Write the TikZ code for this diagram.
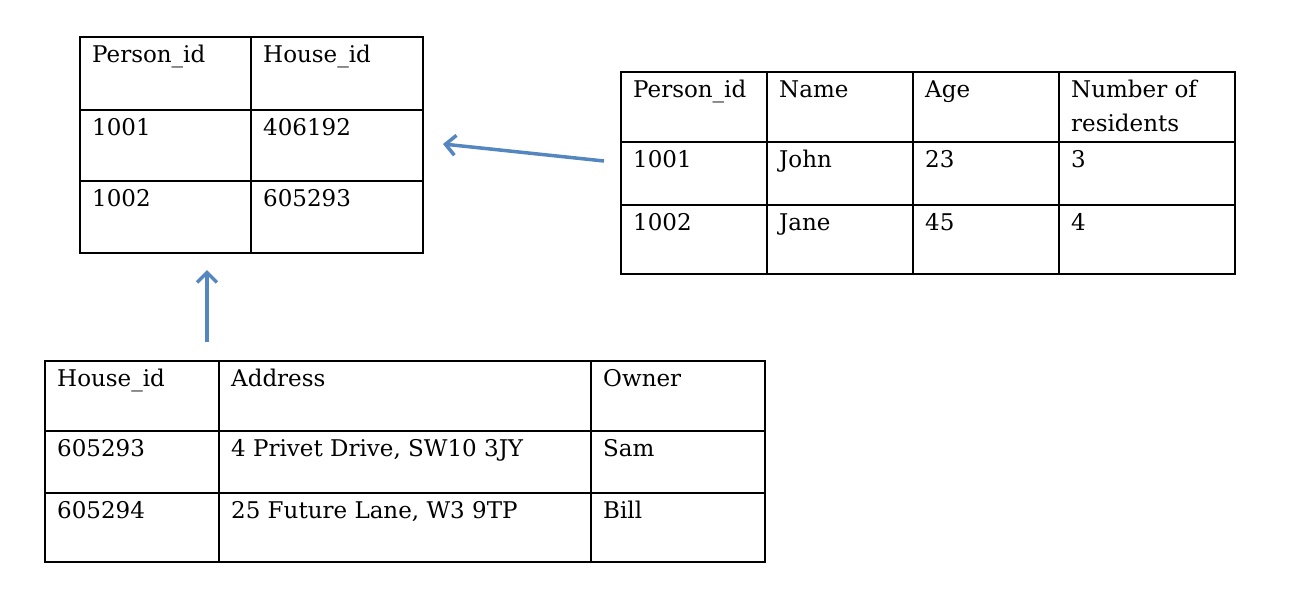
\documentclass[tikz,border=0pt]{standalone}
\usepackage{fontspec}
\setmainfont{DejaVu Serif}
\usetikzlibrary{arrows.meta}
\definecolor{linkblue}{RGB}{84,134,192}

\begin{document}
\begin{tikzpicture}[x=1pt,y=-1pt,
	cell/.style={anchor=base west,inner sep=0pt,align=left,font=\fontsize{23}{34}\selectfont},
	rule/.style={line width=2.3pt},
	link/.style={linkblue,line width=3.5pt,-{Straight Barb[length=10pt,width=20pt]}}]
				\useasboundingbox (0,0) rectangle (1293,598);
				\begin{scope}[rule]

					% Person_id -- House_id
					\draw (80,37) rectangle (423,253);
					\draw (251,37) -- (251,253);
					\foreach \y in {110,181}{%
							\draw (80,\y) -- (423,\y);
						}

					% people
					\draw (621,72) rectangle (1235,274);
					\foreach \x in {767,913,1059}{%
							\draw (\x,72) -- (\x,274);
						}
					\foreach \y in {142,205}{%
							\draw (621,\y) -- (1235,\y);
						}

					% houses
					\draw (45,361) rectangle (765,562);
					\foreach \x in {219,591}{%
							\draw (\x,361) -- (\x,562);
						}
					\foreach \y in {431,493}{%
							\draw (45,\y) -- (765,\y);
						}
				\end{scope}

				\node [cell] (pair-pid) at (92,62)  {Person\_id};
				\node [cell] (pair-hid) at (263,62) {House\_id};
				\node [cell] (pair-p1)  at (92,135) {1001};
				\node [cell] (pair-h1)  at (263,135) {406192};
				\node [cell] (pair-p2)  at (92,206) {1002};
				\node [cell] (pair-h2)  at (263,206) {605293};

				\node [cell] (person-pid)  at (633,97)  {Person\_id};
				\node [cell] (person-name) at (779,97)  {Name};
				\node [cell] (person-age)  at (925,97)  {Age};
				% base of a two-line node is its last line
				\node [cell] (person-res)  at (1071,131) {Number of\\residents};
				\node [cell] (person-p1)   at (633,167) {1001};
				\node [cell] (person-n1)   at (779,167) {John};
				\node [cell] (person-a1)   at (925,167) {23};
				\node [cell] (person-r1)   at (1071,167) {3};
				\node [cell] (person-p2)   at (633,230) {1002};
				\node [cell] (person-n2)   at (779,230) {Jane};
				\node [cell] (person-a2)   at (925,230) {45};
				\node [cell] (person-r2)   at (1071,230) {4};

				\node [cell] (house-hid)   at (57,386)  {House\_id};
				\node [cell] (house-addr)  at (231,386) {Address};
				\node [cell] (house-owner) at (603,386) {Owner};
				\node [cell] (house-h1)    at (57,456)  {605293};
				\node [cell] (house-a1)    at (231,456) {4 Privet Drive, SW10 3JY};
				\node [cell] (house-o1)    at (603,456) {Sam};
				\node [cell] (house-h2)    at (57,518)  {605294};
				\node [cell] (house-a2)    at (231,518) {25 Future Lane, W3 9TP};
				\node [cell] (house-o2)    at (603,518) {Bill};

				\coordinate (person-out) at (604,161);
				\coordinate (pair-in)    at (443,144);
				\coordinate (house-out)  at (207,342);
				\coordinate (pair-below) at (207,270);

				\draw [link] (person-out) -- (pair-in);
				\draw [link] (house-out) -- (pair-below);
			\end{tikzpicture}
\end{document}
